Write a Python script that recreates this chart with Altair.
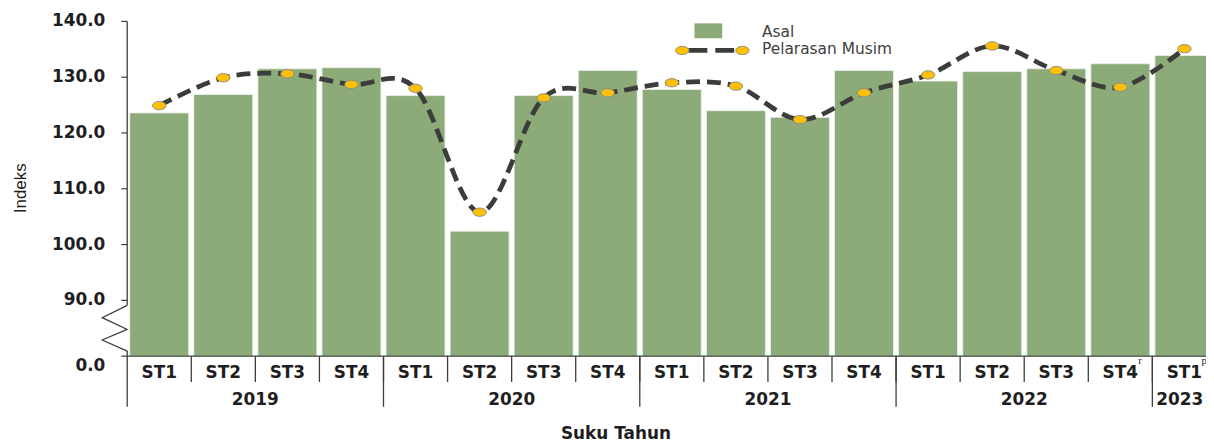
import altair as alt
import pandas as pd

# ---------------- data ----------------
years = ["2019"] * 4 + ["2020"] * 4 + ["2021"] * 4 + ["2022"] * 4 + ["2023"]
quarters = ["ST1", "ST2", "ST3", "ST4"] * 4 + ["ST1"]
asal = [123.6, 126.9, 131.5, 131.7, 126.7, 102.4, 126.7, 131.2,
        127.8, 124.0, 122.8, 131.2, 129.3, 131.0, 131.5, 132.4, 133.9]
pelarasan = [124.9, 129.9, 130.6, 128.7, 128.0, 105.8, 126.3, 127.2,
             129.0, 128.4, 122.4, 127.2, 130.4, 135.6, 131.2, 128.2, 135.1]
notes = [""] * 15 + ["r", "p"]

year_labels = ["2019", "2020", "2021", "2022", "2023"]
year_start = [0, 4, 8, 12, 16]
year_len = [4, 4, 4, 4, 1]

y_ticks = [80, 90, 100, 110, 120, 130, 140]   # 80 is shown as "0.0" (broken axis)
y_tick_labels = ["0.0", "90.0", "100.0", "110.0", "120.0", "130.0", "140.0"]
axis_seg_top = [140, 80.9]
axis_seg_bot = [89.1, 80]
break_x = [0, -0.39, 0, -0.39, 0]
break_y = [89.1, 86.9, 84.8, 82.9, 80.9]

# ---------------- layout ----------------
W = 1086
H = 337
BAND = 64.5
XMAX = W / BAND

GREEN = "#8DAA79"
DARK = "#3a3d3a"
AX = "#3c3c3c"
YEL = "#FFC000"
TXT = "#1e1e1e"
ELLIPSE = "M -1 0 A 1 0.62 0 1 1 1 0 A 1 0.62 0 1 1 -1 0 Z"

XS = alt.Scale(domain=[0, XMAX], nice=False, zero=False)
YS = alt.Scale(domain=[80, 140], nice=False, zero=False)

df = pd.DataFrame({
    "i": list(range(len(asal))),
    "year": years,
    "q": quarters,
    "asal": asal,
    "sa": pelarasan,
    "note": notes,
})

bars = alt.Chart(df).transform_calculate(
    x0="datum.i + 0.04", x1="datum.i + 0.96", base="80"
).mark_bar(color=GREEN, stroke="#eef2ea", strokeWidth=0.8).encode(
    x=alt.X("x0:Q", scale=XS, axis=None),
    x2="x1:Q",
    y=alt.Y("asal:Q", scale=YS, axis=None),
    y2="base:Q",
)

line = alt.Chart(df).transform_calculate(xc="datum.i + 0.5").mark_line(
    interpolate="cardinal", tension=0, color=DARK, strokeWidth=4.8,
    strokeDash=[14, 7],
).encode(
    x=alt.X("xc:Q", scale=XS, axis=None),
    y=alt.Y("sa:Q", scale=YS, axis=None),
    order="i:Q",
)

points = alt.Chart(df).transform_calculate(xc="datum.i + 0.5").mark_point(
    shape=ELLIPSE, filled=True, fill=YEL, stroke="#8a8a8a", strokeWidth=1,
    size=180, opacity=1,
).encode(
    x=alt.X("xc:Q", scale=XS, axis=None),
    y=alt.Y("sa:Q", scale=YS, axis=None),
)

# ---------- y axis drawn with marks (broken axis) ----------
df_yt = pd.DataFrame({"v": y_ticks, "lab": y_tick_labels})
yticks = alt.Chart(df_yt).mark_rule(color=AX, strokeWidth=1.2).encode(
    x=alt.value(-6), x2=alt.value(0),
    y=alt.Y("v:Q", scale=YS, axis=None),
)
lab_style = dict(font="DejaVu Sans", fontWeight="bold", fontSize=17, color=TXT,
                 align="right", baseline="middle")
ylabs = alt.Chart(df_yt).transform_filter("datum.v != 80").mark_text(**lab_style).encode(
    x=alt.value(-22), y=alt.Y("v:Q", scale=YS, axis=None), text="lab:N",
)
ylab0 = alt.Chart(df_yt).transform_filter("datum.v == 80").mark_text(
    dy=10, **lab_style
).encode(
    x=alt.value(-22), y=alt.Y("v:Q", scale=YS, axis=None), text="lab:N",
)
ytitle = alt.Chart(pd.DataFrame({"t": ["Indeks"]})).mark_text(
    font="Liberation Sans", fontSize=17, color=TXT, angle=270,
    align="center", baseline="middle",
).encode(x=alt.value(-107), y=alt.value(168), text="t:N")

df_ax = pd.DataFrame({"x": [0, 0], "y1": axis_seg_top, "y2": axis_seg_bot})
axis_line = alt.Chart(df_ax).mark_rule(color=AX, strokeWidth=1.3).encode(
    x=alt.X("x:Q", scale=XS, axis=None),
    y=alt.Y("y1:Q", scale=YS, axis=None),
    y2="y2:Q",
)
df_brk = pd.DataFrame({"bx": break_x, "by": break_y, "k": list(range(len(break_x)))})
zigzag = alt.Chart(df_brk).mark_line(color=AX, strokeWidth=1.2).encode(
    x=alt.X("bx:Q", scale=XS, axis=None),
    y=alt.Y("by:Q", scale=YS, axis=None),
    order="k:Q",
)

# ---------- x axis (two levels) ----------
df_base = pd.DataFrame({"v": [80]})
baseline = alt.Chart(df_base).mark_rule(color=AX, strokeWidth=1.3).encode(
    x=alt.value(0), x2=alt.value(W),
    y=alt.Y("v:Q", scale=YS, axis=None),
)

df_qsep = pd.DataFrame({"b": list(range(1, len(asal)))})
qsep = alt.Chart(df_qsep).mark_rule(color=AX, strokeWidth=1.3).encode(
    x=alt.X("b:Q", scale=XS, axis=None), y=alt.value(H), y2=alt.value(H + 26),
)
df_year = pd.DataFrame({"year": year_labels, "start": year_start, "len": year_len})
ysep = alt.Chart(df_year).mark_rule(color=AX, strokeWidth=1.3).encode(
    x=alt.X("start:Q", scale=XS, axis=None), y=alt.value(H), y2=alt.value(H + 51),
)

qlabels = alt.Chart(df).transform_calculate(xc="datum.i + 0.5").mark_text(
    font="DejaVu Sans", fontWeight="bold", fontSize=17, color=TXT,
    baseline="middle", align="center",
).encode(
    x=alt.X("xc:Q", scale=XS, axis=None), y=alt.value(H + 17), text="q:N",
)
year_style = dict(font="DejaVu Sans", fontWeight="bold", fontSize=17, color=TXT,
                  baseline="middle")
ylabels = alt.Chart(df_year).transform_filter("datum.len > 1").transform_calculate(
    mid="datum.start + datum.len / 2"
).mark_text(align="center", **year_style).encode(
    x=alt.X("mid:Q", scale=XS, axis=None), y=alt.value(H + 44), text="year:N",
)
# the last (single-quarter) year sits at the clipped right edge: start-aligned
ylabel_last = alt.Chart(df_year).transform_filter("datum.len == 1").transform_calculate(
    xs="datum.start + 0.06"
).mark_text(align="left", **year_style).encode(
    x=alt.X("xs:Q", scale=XS, axis=None), y=alt.value(H + 44), text="year:N",
)

note_text = alt.Chart(df).transform_filter("datum.note != ''").transform_calculate(
    xn="datum.i + 0.81"
).mark_text(
    font="Liberation Serif", fontSize=11, color=TXT, baseline="middle",
    align="center",
).encode(
    x=alt.X("xn:Q", scale=XS, axis=None), y=alt.value(H + 5), text="note:N",
)

xtitle = alt.Chart(pd.DataFrame({"t": ["Suku Tahun"]})).mark_text(
    font="DejaVu Sans", fontWeight="bold", fontSize=17, color=TXT,
    baseline="middle", align="center",
).encode(x=alt.value(492), y=alt.value(415), text="t:N")

# ---------- legend (decoration, placed in pixels) ----------
one = pd.DataFrame({"k": [0]})
leg_sq = alt.Chart(one).mark_rect(color=GREEN).encode(
    x=alt.value(571), x2=alt.value(599), y=alt.value(2), y2=alt.value(17),
)
leg_line = alt.Chart(one).mark_rule(
    color=DARK, strokeWidth=4.8, strokeDash=[19, 8],
).encode(x=alt.value(565), x2=alt.value(611), y=alt.value(29.3))
leg_pt_style = dict(shape=ELLIPSE, filled=True, fill=YEL, stroke="#8a8a8a",
                    strokeWidth=1, size=180, opacity=1)
leg_pt1 = alt.Chart(one).mark_point(**leg_pt_style).encode(
    x=alt.value(558.7), y=alt.value(29.3))
leg_pt2 = alt.Chart(one).mark_point(**leg_pt_style).encode(
    x=alt.value(619.3), y=alt.value(29.3))
txt_style = dict(font="DejaVu Sans", fontSize=15.5, color="#404040", align="left",
                 baseline="middle")
leg_t1 = alt.Chart(one).mark_text(text="Asal", **txt_style).encode(
    x=alt.value(639), y=alt.value(11))
leg_t2 = alt.Chart(one).mark_text(text="Pelarasan Musim", **txt_style).encode(
    x=alt.value(639), y=alt.value(27.7))

chart = alt.layer(
    bars, baseline, axis_line, zigzag, yticks, ylabs, ylab0, ytitle,
    qsep, ysep, qlabels, ylabels, ylabel_last, note_text, line, points, xtitle,
    leg_sq, leg_line, leg_pt1, leg_pt2, leg_t1, leg_t2,
).properties(
    width=W, height=H,
    autosize=alt.AutoSizeParams(type="none"),
    padding={"left": 120, "top": 12, "right": 0, "bottom": 90},
).configure_view(stroke=None)

chart.save("out.html", embed_options={"renderer": "svg", "actions": False})
